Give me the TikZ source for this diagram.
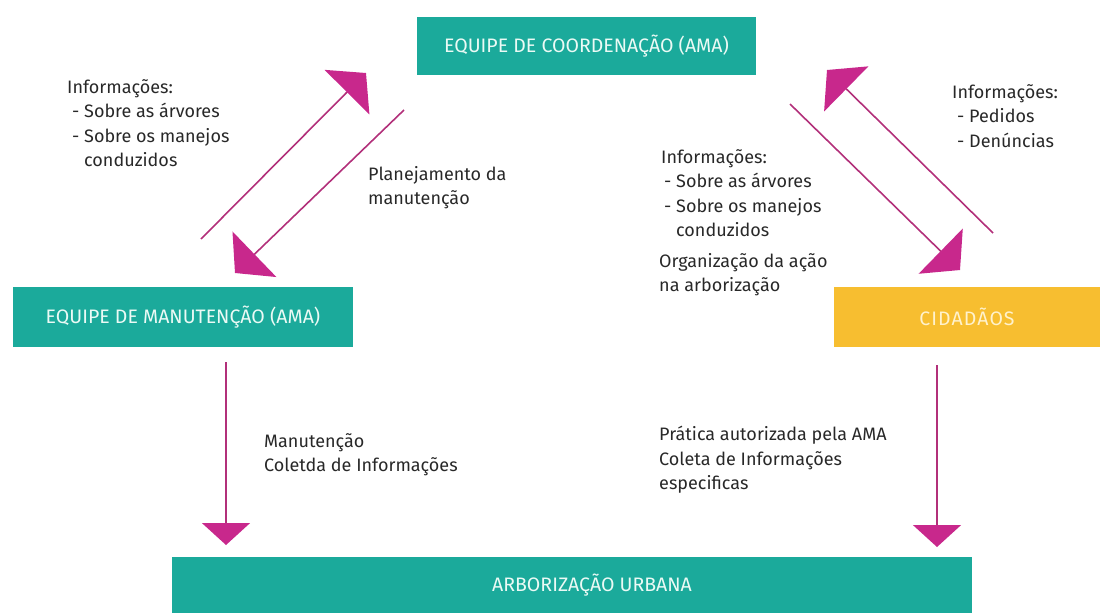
\documentclass[tikz,border=0pt]{standalone}
\usepackage{fontspec}
\setmainfont{Fira Sans}
\usetikzlibrary{arrows.meta}
\definecolor{tealbox}{RGB}{27,170,155}
\definecolor{goldbox}{RGB}{247,190,48}
\definecolor{magline}{RGB}{178,48,122}
\definecolor{maghead}{RGB}{200,40,140}
\definecolor{txtgray}{RGB}{40,40,40}
\definecolor{boxtxt}{RGB}{235,250,245}
\definecolor{goldtxt}{RGB}{255,242,205}
\begin{document}
\begin{tikzpicture}[x=1pt,y=-1pt,
  box/.style={fill=tealbox, text=boxtxt, inner sep=0pt, font=\fontsize{19.5}{22}\selectfont},
  goldstyle/.style={fill=goldbox, text=goldtxt, inner sep=0pt, font=\fontsize{19.5}{22}\selectfont},
  lbl/.style={anchor=north west, inner sep=0pt, align=left, text=txtgray, font=\fontsize{18}{24.5}\selectfont},
  diagarrow/.style={draw=magline, line width=1.6pt, -{Triangle[length=27pt,width=63pt,color=maghead]}},
  vertarrow/.style={draw=magline, line width=1.6pt, -{Triangle[length=22pt,width=48pt,color=maghead]}},
]
\useasboundingbox (0,0) rectangle (1100,613);

% boxes
\node[box, minimum width=339pt, minimum height=58pt] (coord) at (586.5,46) {EQUIPE DE COORDENAÇÃO (AMA)};
\node[box, minimum width=340pt, minimum height=60pt] (mant) at (183,317) {EQUIPE DE MANUTENÇÃO (AMA)};
\node[goldstyle, minimum width=266pt, minimum height=60pt] (cid) at (967,317) {C\kern1pt I\kern1pt D\kern1pt A\kern1pt D\kern1pt Ã\kern1pt O\kern1pt S};
\node[box, minimum width=800pt, minimum height=56pt] (arb) at (572,585) {\hspace{40pt}ARBORIZAÇÃO URBANA};

% arrow end points
\coordinate (a1s) at (201,239);
\coordinate (a1t) at (366,73);
\coordinate (a2s) at (404,110);
\coordinate (a2t) at (235,273);
\coordinate (a3s) at (993,233);
\coordinate (a3t) at (827,70);
\coordinate (a4s) at (790,104);
\coordinate (a4t) at (960,270);
\coordinate (a5s) at (226,362);
\coordinate (a5t) at (226,545);
\coordinate (a6s) at (937,365);
\coordinate (a6t) at (937,547);

\draw[diagarrow] (a1s) -- (a1t);
\draw[diagarrow] (a2s) -- (a2t);
\draw[diagarrow] (a3s) -- (a3t);
\draw[diagarrow] (a4s) -- (a4t);
\draw[vertarrow] (a5s) -- (a5t);
\draw[vertarrow] (a6s) -- (a6t);

% labels
\node[lbl] (infoL) at (67,79) {Informações:\\\hspace{5pt}- Sobre as árvores\\\hspace{5pt}- Sobre os manejos\\\hspace{5pt}\hphantom{- }conduzidos};
\node[lbl] (plan) at (368,166) {Planejamento da\\manutenção};
\node[lbl] (infoM) at (661,149) {Informações:\\\hspace{3pt}- Sobre as árvores\\\hspace{3pt}- Sobre os manejos\\\hspace{3pt}\hphantom{- }conduzidos};
\node[lbl] (org) at (659,253) {Organização da ação\\na arborização};
\node[lbl] (infoR) at (952,84) {Informações:\\\hspace{5pt}- Pedidos\\\hspace{5pt}- Denúncias};
\node[lbl] (manut) at (264,433) {Manutenção\\Coletda de Informações};
\node[lbl] (prat) at (659,426) {Prática autorizada pela AMA\\Coleta de Informações\\especificas};
\end{tikzpicture}
\end{document}
